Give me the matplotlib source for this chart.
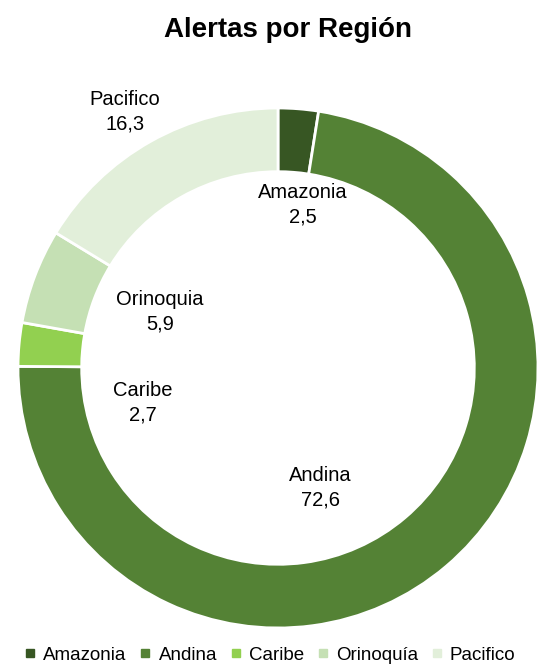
import matplotlib
matplotlib.use("Agg")
import matplotlib.pyplot as plt
from matplotlib.lines import Line2D

plt.rcParams["font.family"] = ["Liberation Sans", "DejaVu Sans"]

regiones = ["Amazonia", "Andina", "Caribe", "Orinoquía", "Pacifico"]
etiquetas = ["Amazonia", "Andina", "Caribe", "Orinoquia", "Pacifico"]
valores = [2.5, 72.6, 2.7, 5.9, 16.3]
colores = ["#375623", "#548235", "#92D050", "#C5E0B4", "#E2EFDA"]

# posiciones de las etiquetas (px del lienzo)
pos_etiquetas = [(303, 205), (320, 488), (143, 403), (160, 312), (125, 112)]

W, H = 540, 671
fig = plt.figure(figsize=(W / 100, H / 100), dpi=100)
ax = fig.add_axes([0, 0, 1, 1])

cx, cy, r = 278, H - 368, 260
ax.pie(valores, colors=colores, startangle=90, counterclock=False,
       center=(cx, cy), radius=r, frame=True,
       wedgeprops=dict(width=r * 0.245, edgecolor="white", linewidth=2))
ax.set_xlim(0, W)
ax.set_ylim(0, H)
ax.axis("off")

for nom, val, (px, py) in zip(etiquetas, valores, pos_etiquetas):
    ax.text(px, H - py, f"{nom}\n{str(val).replace('.', ',')}",
            ha="center", va="center", fontsize=14.5, linespacing=1.35)

ax.text(288, H - 30, "Alertas por Región", ha="center", va="center",
        fontsize=20, fontweight="bold")

handles = [Line2D([], [], marker="s", linestyle="", markersize=6,
                  markerfacecolor=c, markeredgecolor=c) for c in colores]
fig.legend(handles, regiones, loc="center", bbox_to_anchor=(0.5, 1 - 655 / H),
           ncol=5, frameon=False, fontsize=13.5, handlelength=0.6,
           handletextpad=0.4, columnspacing=0.7)

fig.savefig("out.png", dpi=100)
